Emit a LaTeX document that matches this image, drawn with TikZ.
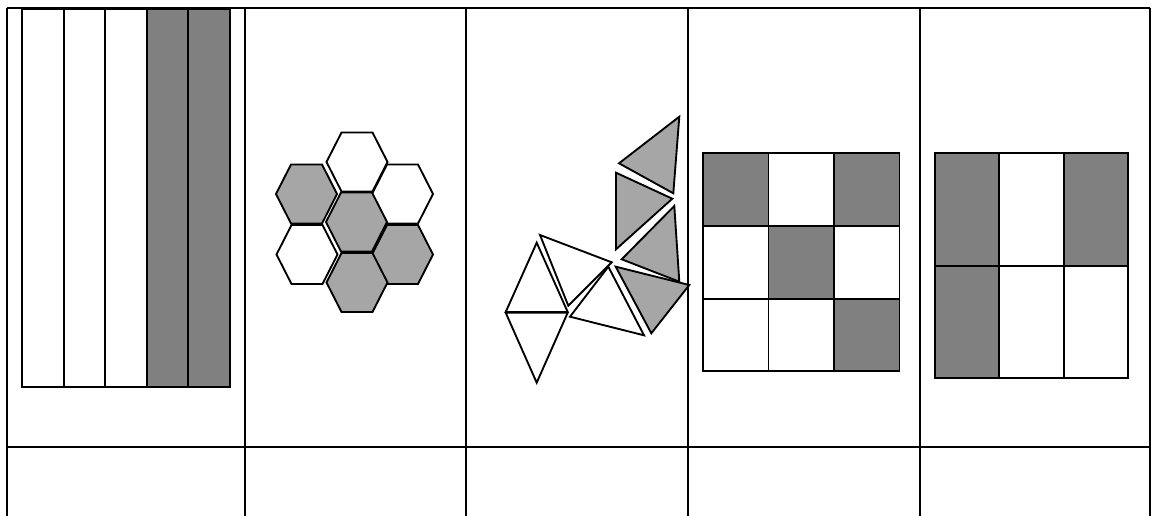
\documentclass[tikz,border=0pt]{standalone}
\usepackage{tikz}
\tikzset{rule/.style = {draw, line width = 1.5pt}}
\tikzset{piece/.style = {draw, line width = 1.4pt, line join = miter}}
\tikzset{dark/.style = {piece, fill = gray}}
\tikzset{light/.style = {piece, fill = gray!70}}
\tikzset{plain/.style = {piece, fill = white}}

\begin{document}
\begin{tikzpicture}[x = 0.75pt, y = -0.75pt]
	\useasboundingbox (0, 0) rectangle (1151, 516);

	% strips
	\foreach \i/\s in {0/plain, 1/plain, 2/plain, 3/dark, 4/dark}
		\draw[\s] ({22 + 41.6*\i}, 9) rectangle ({22 + 41.6*(\i+1)}, 387);

	% hexagons
	\foreach \cx/\cy/\s in {357/162/plain, 306.5/194/light, 402.5/194/plain,
			356.5/222/light, 307/254.5/plain, 402.5/254.5/light, 357/282.5/light}
		\draw[\s] (\cx-30.5, \cy) -- (\cx-15.5, \cy-29.5) -- (\cx+15.5, \cy-29.5)
			-- (\cx+30.5, \cy) -- (\cx+15.5, \cy+29.5) -- (\cx-15.5, \cy+29.5) -- cycle;

	% triangles
	\draw[plain] (536.7, 242.7) -- (505.7, 312) -- (567.7, 312) -- cycle;
	\draw[plain] (505.7, 312.7) -- (567.7, 312.7) -- (536.7, 382.7) -- cycle;
	\draw[plain] (540, 235) -- (611.7, 262.3) -- (568.3, 305.7) -- cycle;
	\draw[plain] (608.3, 266.7) -- (570, 316.7) -- (644, 335.3) -- cycle;
	\draw[light] (615.7, 266.7) -- (689.3, 285) -- (651.3, 333.3) -- cycle;
	\draw[light] (674.3, 206) -- (679.3, 281.7) -- (621.7, 259.3) -- cycle;
	\draw[light] (616, 172.7) -- (672.3, 198.7) -- (616, 249.3) -- cycle;
	\draw[light] (679.3, 116.7) -- (673.3, 193.3) -- (619, 163.3) -- cycle;

	% 3 x 3 squares
	\foreach \c/\r/\s in {0/0/dark, 1/0/plain, 2/0/dark, 0/1/plain, 1/1/dark,
			2/1/plain, 0/2/plain, 1/2/plain, 2/2/dark}
		\draw[\s] ({703 + 65.5*\c}, {153.3 + 72.7*\r})
			rectangle ({703 + 65.5*(\c+1)}, {153.3 + 72.7*(\r+1)});

	% 3 x 2 blocks
	\foreach \c/\r/\s in {0/0/dark, 1/0/plain, 2/0/dark, 0/1/dark, 1/1/plain, 2/1/plain}
		\draw[\s] ({935 + 64.3*\c}, {153.3 + 112.4*\r})
			rectangle ({935 + 64.3*(\c+1)}, {153.3 + 112.4*(\r+1)});

	% table
	\draw[rule] (7, 8) -- (1150, 8);
	\draw[rule] (7, 447) -- (1150, 447);
	\foreach \x in {7, 245, 466, 688, 920, 1150}
		\draw[rule] (\x, 8) -- (\x, 516);
\end{tikzpicture}
\end{document}
